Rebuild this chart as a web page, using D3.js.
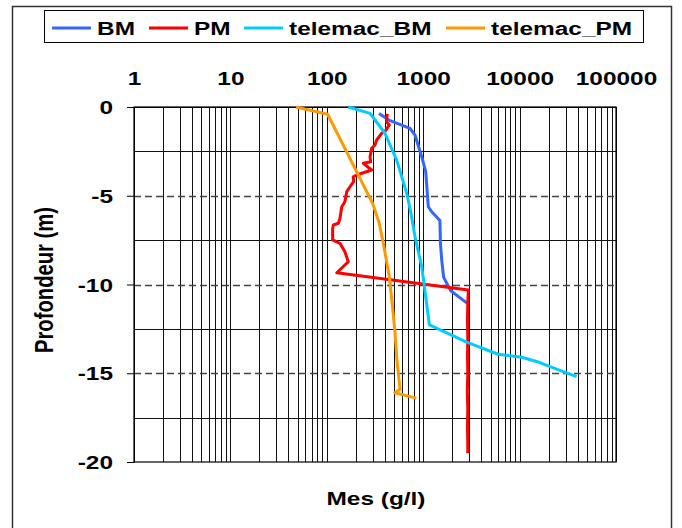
<!DOCTYPE html>
<html><head><meta charset="utf-8">
<script src="https://cdn.jsdelivr.net/npm/d3@7"></script>
<style>
body{margin:0;background:#fff}
text{font-family:Arial,"Liberation Sans",sans-serif;font-weight:bold;fill:#000}
</style>
</head><body><svg id="c" width="682" height="528"></svg>
<script>
// ---- data ----
const xTickValues = [1, 10, 100, 1000, 10000, 100000];
const xTickLabels = ["1", "10", "100", "1000", "10000", "100000"];
const yTickValues = [0, -5, -10, -15, -20];
const yTickLabels = ["0", "-5", "-10", "-15", "-20"];
const seriesNames = ["BM", "PM", "telemac_BM", "telemac_PM"];
const seriesColors = ["#3366FF", "#FF0000", "#00CCFF", "#FF9900"];

const bmDepth = [-0.36, -0.77, -1.2, -1.58, -2.8, -3.64, -5.62, -5.9, -6.4, -7.68, -8.62, -9.6, -10.35, -11.05];
const bmConc  = [348, 453, 730, 822, 965, 1062, 1130, 1225, 1490, 1510, 1556, 1630, 1930, 2850];

const pmDepth = [-0.39, -0.83, -1.01, -1.39, -1.48, -1.86, -2.14, -2.33, -2.8, -3.08, -3.17, -3.55, -3.83, -3.93, -4.21, -4.49, -4.77, -5.34, -5.62, -6.27, -6.55, -6.65, -6.83, -7.49, -7.68, -8.15, -8.72, -9.34, -10.31, -11, -12, -13, -14, -15, -16, -17, -18, -19, -19.5];
const pmConc  = [424, 415, 445, 400, 371, 329, 316, 292, 281, 285, 239, 292, 204, 188, 190, 174, 161, 154, 143, 137, 132, 117, 115, 115, 137, 154, 167, 127, 2940, 2900, 2880, 2900, 2880, 2900, 2870, 2900, 2880, 2900, 2900];

const tbmDepth = [0, -0.36, -1.48, -2.99, -4.86, -6, -7.3, -9, -9.93, -11, -12.28, -13.25, -13.93, -14.1, -14.35, -14.63, -15.19];
const tbmConc  = [167, 281, 401, 531, 675, 747, 822, 965, 1019, 1080, 1160, 2826, 6000, 10500, 15300, 20660, 39100];

const tpmDepth = [0, -0.41, -5.43, -6.5, -7.68, -9.56, -11, -12.7, -14.3, -15.9, -16.1, -16.4];
const tpmConc  = [48, 102, 299, 348, 386, 445, 475, 510, 535, 575, 507, 850];

// ---- chart ----
const SX = 1.32;
const svg = d3.select("#c");
const x = d3.scaleLog().domain([1, 100000]).range([134, 616]);
const y = d3.scaleLinear().domain([0, -20]).range([107, 462]);

// outer frame
svg.append("rect").attr("x", 12.5).attr("y", 6.5).attr("width", 659).attr("height", 540)
  .attr("fill", "none").attr("stroke", "#333").attr("stroke-width", 1.5);

// vertical gridlines
const gridX = [];
for (let k = 0; k < 5; k++) for (let m = 1; m <= 9; m++) gridX.push(m * Math.pow(10, k));
gridX.push(100000);
svg.append("g").selectAll("line").data(gridX).join("line")
  .attr("x1", d => Math.round(x(d)) + 0.5).attr("x2", d => Math.round(x(d)) + 0.5)
  .attr("y1", y(0)).attr("y2", y(-20))
  .attr("stroke", "#111").attr("stroke-width", 1);

// horizontal gridlines
const gridMinor = [-2.5, -7.5, -12.5, -17.5];
const gridMajor = [-5, -10, -15];
svg.append("g").selectAll("line").data(gridMinor).join("line")
  .attr("x1", x(1)).attr("x2", x(100000))
  .attr("y1", d => Math.round(y(d)) + 0.5).attr("y2", d => Math.round(y(d)) + 0.5)
  .attr("stroke", "#111").attr("stroke-width", 1);
svg.append("g").selectAll("line").data(gridMajor).join("line")
  .attr("x1", x(1)).attr("x2", x(100000))
  .attr("y1", d => Math.round(y(d)) + 0.5).attr("y2", d => Math.round(y(d)) + 0.5)
  .attr("stroke", "#444").attr("stroke-width", 1.5).attr("stroke-dasharray", "7,4");

// plot border
svg.append("rect").attr("x", x(1)).attr("y", y(0)).attr("width", x(100000) - x(1)).attr("height", y(-20) - y(0))
  .attr("fill", "none").attr("stroke", "#000").attr("stroke-width", 1.2);

// axes
const yAxis = svg.append("g").attr("transform", `translate(${x(1)},0)`)
  .call(d3.axisLeft(y).tickValues(yTickValues).tickFormat((d, i) => yTickLabels[i]).tickSize(7).tickSizeOuter(0));
yAxis.select(".domain").attr("stroke", "#000");
yAxis.selectAll("text").attr("font-size", 18.5).attr("font-family", "Arial, 'Liberation Sans', sans-serif")
  .attr("font-weight", "bold").attr("x", -21 / SX).attr("dy", "0.36em")
  .attr("transform", `scale(${SX},1)`);

const xAxis = svg.append("g").attr("transform", `translate(0,${y(0)})`)
  .call(d3.axisTop(x).tickValues(xTickValues).tickFormat((d, i) => xTickLabels[i]).tickSize(0).tickPadding(22));
xAxis.select(".domain").attr("stroke", "#000");
xAxis.selectAll("text").attr("font-size", 18.5).attr("font-family", "Arial, 'Liberation Sans', sans-serif")
  .attr("font-weight", "bold").attr("transform", `scale(${SX},1)`);

// series
const series = [
  [bmConc, bmDepth], [pmConc, pmDepth], [tbmConc, tbmDepth], [tpmConc, tpmDepth]
];
const line = d3.line().x(d => x(d[0])).y(d => y(d[1]));
series.forEach((s, i) => {
  const pts = s[0].map((c, j) => [c, s[1][j]]);
  svg.append("path").datum(pts).attr("d", line)
    .attr("fill", "none").attr("stroke", seriesColors[i]).attr("stroke-width", 3)
    .attr("stroke-linejoin", "round");
});

// legend
svg.append("rect").attr("x", 44.5).attr("y", 10.5).attr("width", 599).attr("height", 32)
  .attr("fill", "#fff").attr("stroke", "#000").attr("stroke-width", 1);
const legX = [52, 149, 244, 446];
seriesNames.forEach((n, i) => {
  svg.append("line").attr("x1", legX[i]).attr("x2", legX[i] + 39).attr("y1", 28).attr("y2", 28)
    .attr("stroke", seriesColors[i]).attr("stroke-width", 3);
  svg.append("text").attr("transform", `translate(${legX[i] + 45},35) scale(${SX},1)`)
    .attr("font-size", 18.5).text(n);
});

// axis titles
svg.append("text").attr("transform", `translate(376,505) scale(${SX},1)`)
  .attr("text-anchor", "middle").attr("font-size", 18.5).text("Mes (g/l)");
svg.append("text").attr("transform", `translate(53,280) scale(1.3,1) rotate(-90)`)
  .attr("text-anchor", "middle").attr("font-size", 19.5)
  .attr("textLength", 146).attr("lengthAdjust", "spacingAndGlyphs").text("Profondeur (m)");
</script>
</body></html>
